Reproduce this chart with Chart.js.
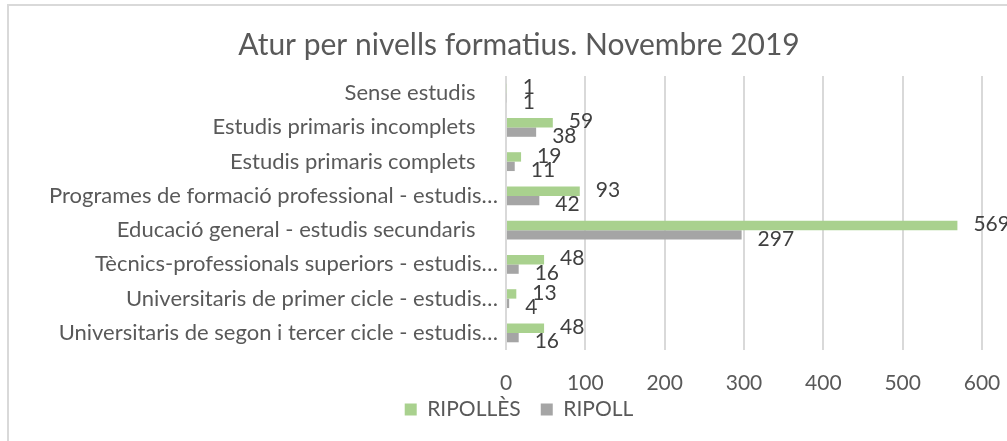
<!DOCTYPE html>
<html>
<head>
<meta charset="utf-8">
<script src="https://cdn.jsdelivr.net/npm/chart.js@4"></script>
<style>
  html, body { margin: 0; padding: 0; background: #fff; overflow: hidden; }
  canvas { display: block; }
</style>
</head>
<body>
<canvas id="aturChart" width="1007" height="441"></canvas>
<script>
// Chart data
const categories = [
    'Sense estudis    ',
    'Estudis primaris incomplets    ',
    'Estudis primaris complets    ',
    'Programes de formació professional - estudis…',
    'Educació general - estudis secundaris    ',
    'Tècnics-professionals superiors - estudis…',
    'Universitaris de primer cicle - estudis…',
    'Universitaris de segon i tercer cicle - estudis…'
];
const ripollesValues = [1, 59, 19, 93, 569, 48, 13, 48];
const ripollValues = [1, 38, 11, 42, 297, 16, 4, 16];
const seriesNames = ['RIPOLLÈS', 'RIPOLL'];
const xTicks = [0, 100, 200, 300, 400, 500, 600];

const FONT = 'Lato, "Open Sans", sans-serif';
const TEXT = '#595959';

// Frame like the Excel chart border
const framePlugin = {
    id: 'frame',
    beforeDraw(chart) {
        const ctx = chart.ctx;
        ctx.save();
        ctx.strokeStyle = '#D9D9D9';
        ctx.lineWidth = 2;
        ctx.beginPath();
        ctx.moveTo(8, chart.height + 5);
        ctx.lineTo(8, 5);
        ctx.lineTo(chart.width + 5, 5);
        ctx.stroke();
        ctx.restore();
    }
};

// Pull the legend up under the tick labels, and let long
// category labels run past the left edge of the y box
const layoutTweak = {
    id: 'layoutTweak',
    afterLayout(chart) {
        const lg = chart.legend;
        if (lg) {
            const h = lg.height;
            lg.top = 379;
            lg.bottom = lg.top + h;
        }
        chart.scales.y.left = 14;
    }
};

// Value labels next to the bars
const valueLabels = {
    id: 'valueLabels',
    afterDatasetsDraw(chart) {
        const ctx = chart.ctx;
        ctx.save();
        ctx.font = '21px ' + FONT;
        ctx.fillStyle = '#404040';
        ctx.textBaseline = 'middle';
        ctx.textAlign = 'left';
        chart.data.datasets.forEach((ds, i) => {
            const meta = chart.getDatasetMeta(i);
            meta.data.forEach((bar, j) => {
                const dy = i === 0 ? -1 : 4;
                ctx.fillText(String(ds.data[j]), bar.x + 16, bar.y + dy);
            });
        });
        ctx.restore();
    }
};

const ctx = document.getElementById('aturChart').getContext('2d');
new Chart(ctx, {
    type: 'bar',
    data: {
        labels: categories,
        datasets: [
            {
                label: seriesNames[0],
                data: ripollesValues,
                backgroundColor: '#A9D18E',
                categoryPercentage: 0.55,
                barPercentage: 1
            },
            {
                label: seriesNames[1],
                data: ripollValues,
                backgroundColor: '#A5A5A5',
                categoryPercentage: 0.55,
                barPercentage: 1
            }
        ]
    },
    options: {
        indexAxis: 'y',
        responsive: false,
        animation: false,
        layout: {
            padding: { left: 56, right: 25, top: 0, bottom: -6 }
        },
        plugins: {
            title: {
                display: true,
                text: 'Atur per nivells formatius. Novembre 2019',
                color: TEXT,
                font: { family: FONT, size: 30, weight: 'normal' },
                padding: { top: 27, bottom: 13 }
            },
            legend: {
                position: 'bottom',
                labels: {
                    color: TEXT,
                    font: { family: FONT, size: 21 },
                    boxWidth: 12,
                    boxHeight: 12,
                    padding: 20
                }
            },
            tooltip: { enabled: false }
        },
        scales: {
            x: {
                min: 0,
                max: 600,
                afterBuildTicks: scale => {
                    scale.ticks = xTicks.map(v => ({ value: v }));
                },
                afterFit: scale => {
                    scale.height = 46;
                    scale.paddingLeft = 0;
                    scale.paddingRight = 0;
                },
                grid: {
                    color: '#D9D9D9',
                    lineWidth: 2,
                    drawTicks: false
                },
                border: { display: false },
                ticks: {
                    color: TEXT,
                    font: { family: FONT, size: 21 },
                    padding: 21
                }
            },
            y: {
                afterFit: scale => { scale.width = 450; },
                grid: { display: false, drawTicks: false },
                border: { display: false },
                ticks: {
                    color: TEXT,
                    font: { family: FONT, size: 22 },
                    padding: 8,
                    autoSkip: false
                }
            }
        }
    },
    plugins: [framePlugin, layoutTweak, valueLabels]
});
</script>
</body>
</html>
